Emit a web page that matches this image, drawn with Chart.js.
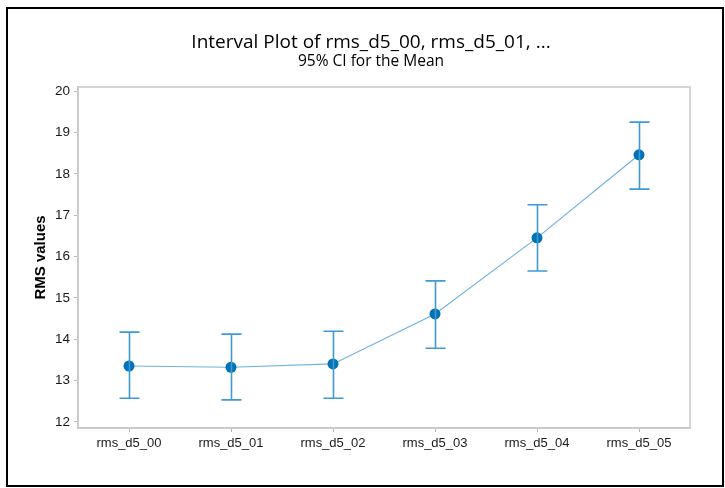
<!DOCTYPE html>
<html>
<head>
<meta charset="utf-8">
<script src="https://cdn.jsdelivr.net/npm/chart.js@4"></script>
<style>
  html, body { margin: 0; padding: 0; background: #fff; }
  #wrap { width: 725px; height: 488px; position: relative; }
</style>
</head>
<body>
<div id="wrap"><canvas id="chart" width="725" height="488"></canvas></div>
<script>
const categories = ["rms_d5_00", "rms_d5_01", "rms_d5_02", "rms_d5_03", "rms_d5_04", "rms_d5_05"];
const means = [13.35, 13.32, 13.40, 14.61, 16.45, 18.46];
const lower = [12.57, 12.53, 12.57, 13.78, 15.65, 17.63];
const upper = [14.17, 14.12, 14.19, 15.41, 17.25, 19.25];
const yTicks = [12, 13, 14, 15, 16, 17, 18, 19, 20];
const titleText = "Interval Plot of rms_d5_00, rms_d5_01, ...";
const subtitleText = "95% CI for the Mean";

const FONT = "'Liberation Sans', Arial, sans-serif";
const TITLE_FONT = "'Open Sans', 'Liberation Sans', sans-serif";

// error bars + frame + titles
const intervalPlugin = {
  id: "interval",
  beforeDraw(chart) {
    const c = chart.ctx;
    c.save();
    c.fillStyle = "#fff";
    c.fillRect(0, 0, chart.width, chart.height);
    c.strokeStyle = "#000";
    c.lineWidth = 2;
    c.strokeRect(7, 8, 716, 478);
    c.fillStyle = "#000";
    c.textAlign = "center";
    c.textBaseline = "middle";
    c.font = "19px " + TITLE_FONT;
    c.fillText(titleText, 371, 43);
    c.font = "15.5px " + TITLE_FONT;
    c.fillText(subtitleText, 371, 62);
    c.restore();
  },
  afterDatasetsDraw(chart) {
    const c = chart.ctx;
    const x = chart.scales.x, y = chart.scales.y;
    const a = chart.chartArea;
    c.save();
    c.strokeStyle = "#c8c8c8";
    c.lineWidth = 1.5;
    c.strokeRect(a.left, a.top, a.right - a.left, a.bottom - a.top);
    c.strokeStyle = "#3f9ad2";
    c.lineWidth = 1.6;
    categories.forEach((cat, i) => {
      const px = Math.round(x.getPixelForValue(i)) + 0.5;
      const yl = y.getPixelForValue(lower[i]);
      const yu = y.getPixelForValue(upper[i]);
      c.beginPath();
      c.moveTo(px, yl); c.lineTo(px, yu);
      c.moveTo(px - 10, yl); c.lineTo(px + 10, yl);
      c.moveTo(px - 10, yu); c.lineTo(px + 10, yu);
      c.stroke();
    });
    c.restore();
  }
};

new Chart(document.getElementById("chart"), {
  type: "line",
  data: {
    labels: categories,
    datasets: [{
      data: means,
      borderColor: "#6db3df",
      borderWidth: 1.2,
      pointRadius: 5.5,
      pointBackgroundColor: "#0072b5",
      pointBorderColor: "#0072b5",
      pointBorderWidth: 0,
      tension: 0,
      order: 0
    }]
  },
  options: {
    responsive: false,
    animation: false,
    layout: { padding: { left: 0, right: 35, top: 87, bottom: 0 } },
    plugins: { legend: { display: false }, tooltip: { enabled: false } },
    scales: {
      x: {
        offset: true,
        afterFit: s => { s.height = 60; },
        grid: { display: true, drawOnChartArea: false, drawTicks: true, tickLength: 4, color: "#b8b8b8", offset: false },
        border: { color: "#c8c8c8", width: 1.5 },
        ticks: { color: "#1a1a1a", font: { family: FONT, size: 13 }, padding: 4, maxRotation: 0 }
      },
      y: {
        min: 11.85,
        max: 20.1,
        afterFit: s => { s.width = 78; },
        afterBuildTicks: s => { s.ticks = yTicks.map(v => ({ value: v })); },
        grid: { drawOnChartArea: false, drawTicks: true, tickLength: 4, color: "#b8b8b8" },
        border: { color: "#c8c8c8", width: 1.5 },
        ticks: { color: "#1a1a1a", font: { family: FONT, size: 13.5 }, padding: 4 },
        title: {
          display: true,
          text: "RMS values",
          color: "#000",
          font: { family: FONT, size: 15, weight: "bold" },
          padding: { top: 32, bottom: 0 }
        }
      }
    }
  },
  plugins: [intervalPlugin]
});
</script>
</body>
</html>
